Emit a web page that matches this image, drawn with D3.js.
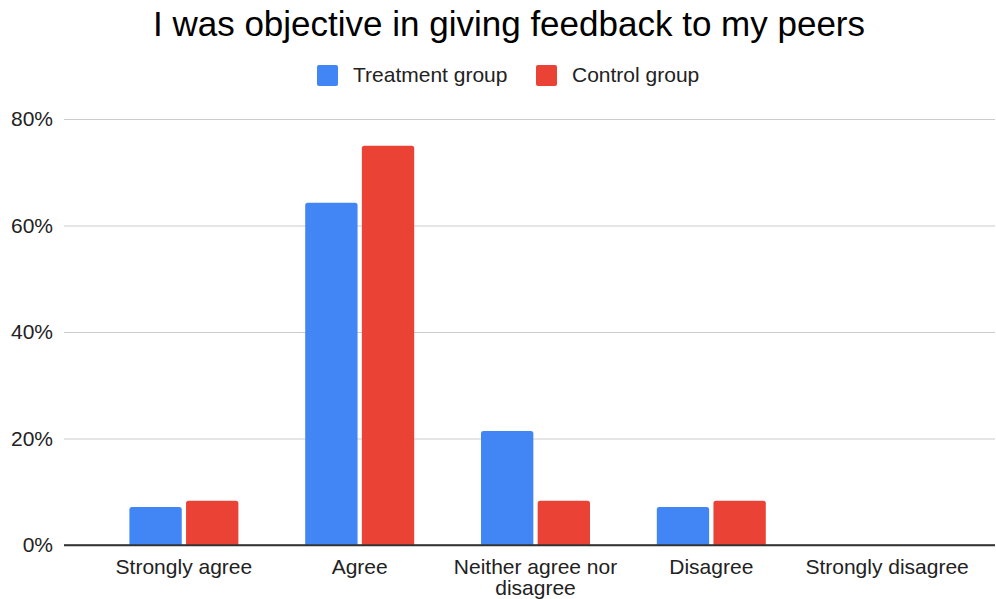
<!DOCTYPE html>
<html>
<head>
<meta charset="utf-8">
<script src="https://cdn.jsdelivr.net/npm/d3@7"></script>
<style>
  html, body { margin: 0; padding: 0; background: #fff; }
  svg { display: block; font-family: Arial, "Liberation Sans", Helvetica, sans-serif; }
</style>
</head>
<body>
<svg id="chart" width="996" height="599"></svg>
<script>
// Survey responses, share of each group
const categories = ["Strongly agree", "Agree", "Neither agree nor disagree", "Disagree", "Strongly disagree"];
const seriesNames = ["Treatment group", "Control group"];
const treatment = [1 / 14, 9 / 14, 3 / 14, 1 / 14, 0];
const control = [1 / 12, 9 / 12, 1 / 12, 1 / 12, 0];
const yTicks = [0, 0.2, 0.4, 0.6, 0.8];
const colors = ["#4285F4", "#EA4335"];

const svg = d3.select("#chart");

const x = d3.scaleBand().domain(categories).range([96, 975]).paddingInner(0.38).paddingOuter(0.19);
const x1 = d3.scaleBand().domain(seriesNames).range([0, x.bandwidth()]).paddingInner(0.076);
const y = d3.scaleLinear().domain([0, 0.8]).range([545, 119]);

// Title
svg.append("text")
  .attr("x", 509).attr("y", 36)
  .attr("text-anchor", "middle")
  .attr("font-size", 35)
  .attr("fill", "#000")
  .text("I was objective in giving feedback to my peers");

// Legend
const legend = svg.append("g");
const legendItems = [
  { name: seriesNames[0], color: colors[0], x: 317 },
  { name: seriesNames[1], color: colors[1], x: 536 }
];
legendItems.forEach(it => {
  legend.append("rect").attr("x", it.x).attr("y", 65).attr("width", 21).attr("height", 21)
    .attr("rx", 2).attr("fill", it.color);
  legend.append("text").attr("x", it.x + 36).attr("y", 82)
    .attr("font-size", 21).attr("fill", "#222").text(it.name);
});

// Gridlines + y labels
const yAxis = d3.axisLeft(y).tickValues(yTicks).tickFormat(d3.format(".0%")).tickSize(0);
const gy = svg.append("g").attr("transform", "translate(64,0)").call(yAxis);
gy.select(".domain").remove();
gy.selectAll(".tick text").attr("x", -11).attr("font-size", 21).attr("fill", "#222")
  .attr("font-family", "Arial, 'Liberation Sans', sans-serif");
gy.selectAll(".tick").append("line")
  .attr("x1", 0).attr("x2", 995 - 64)
  .attr("stroke", d => d === 0 ? "#333" : "#ccc")
  .attr("stroke-width", d => d === 0 ? 1.5 : 1.2);

// Bars with slightly rounded tops
function topRounded(x0, y0, w, h, r) {
  if (h <= 0) return "";
  r = Math.min(r, h, w / 2);
  return `M${x0},${y0 + h}V${y0 + r}Q${x0},${y0} ${x0 + r},${y0}H${x0 + w - r}Q${x0 + w},${y0} ${x0 + w},${y0 + r}V${y0 + h}Z`;
}
const data = categories.map((c, i) => ({ cat: c, vals: [treatment[i], control[i]] }));
const groups = svg.append("g").selectAll("g").data(data).join("g")
  .attr("transform", d => `translate(${x(d.cat)},0)`);
groups.selectAll("path").data(d => d.vals.map((v, j) => ({ v, s: seriesNames[j], c: colors[j] })))
  .join("path")
  .attr("fill", d => d.c)
  .attr("d", d => topRounded(x1(d.s), y(d.v), x1.bandwidth(), y(0) - y(d.v), 2.5));

// Baseline drawn over the bars
svg.append("line").attr("x1", 64).attr("x2", 995).attr("y1", y(0)).attr("y2", y(0))
  .attr("stroke", "#333").attr("stroke-width", 1.5);

// X labels (wrapped)
const xLabelLines = {
  "Neither agree nor disagree": ["Neither agree nor", "disagree"]
};
const gx = svg.append("g");
categories.forEach(c => {
  const lines = xLabelLines[c] || [c];
  const t = gx.append("text").attr("text-anchor", "middle").attr("font-size", 21).attr("fill", "#222");
  lines.forEach((ln, k) => {
    t.append("tspan").attr("x", x(c) + x.bandwidth() / 2).attr("y", 574 + k * 21).text(ln);
  });
});
</script>
</body>
</html>
